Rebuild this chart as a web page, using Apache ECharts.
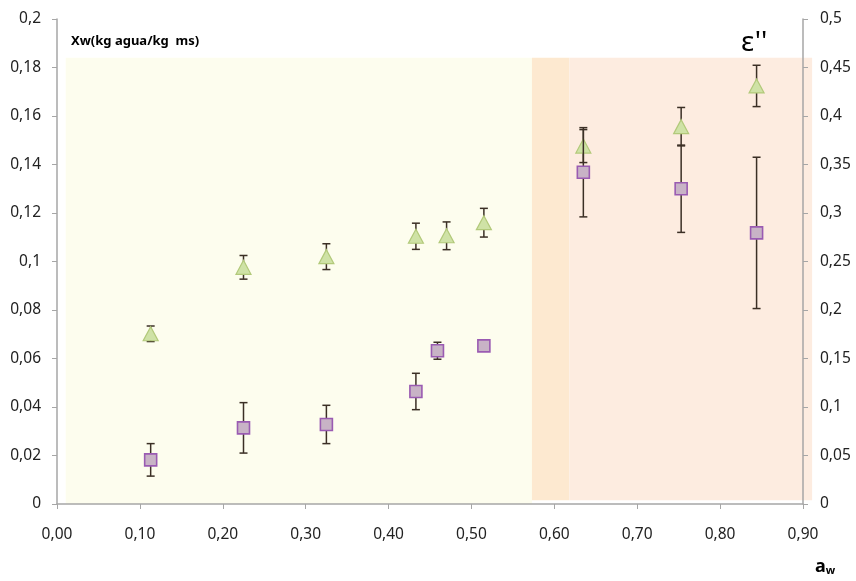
<!DOCTYPE html>
<html><head><meta charset="utf-8">
<style>html,body{margin:0;padding:0;background:#fff}#c{width:856px;height:581px}</style>
<script src="https://cdn.jsdelivr.net/npm/echarts@6/dist/echarts.min.js"></script>
</head><body><div id="c"></div>
<script>
// Data (aw on x; Xw on left axis; ε'' on right axis)
const awSquares = [0.113, 0.225, 0.325, 0.433, 0.459, 0.515, 0.635, 0.753, 0.844];
const xwValues  = [0.0182, 0.0314, 0.0328, 0.0464, 0.0632, 0.0652, 0.1368, 0.1300, 0.1118];
const xwErrors  = [0.0067, 0.0104, 0.0079, 0.0075, 0.0035, 0.0015, 0.0184, 0.0180, 0.0312];
const awTriangles = [0.113, 0.225, 0.325, 0.433, 0.470, 0.515, 0.635, 0.753, 0.844];
const epsValues = [0.1755, 0.2440, 0.2550, 0.2760, 0.2765, 0.2900, 0.3690, 0.3890, 0.4310];
const epsErrors = [0.0080, 0.0122, 0.0133, 0.0135, 0.0143, 0.0148, 0.0170, 0.0198, 0.0213];
const xTicks = {min: 0, max: 0.9, interval: 0.1};
const yLeftTicks = {min: 0, max: 0.2, interval: 0.02};
const yRightTicks = {min: 0, max: 0.5, interval: 0.05};
const zoneStart = [0.0105, 0.573, 0.618];
const zoneEnd   = [0.573, 0.618, 0.911];
const zoneBottom = [0, 0.0015, 0.0015];
const zoneTop   = [0.184, 0.184, 0.184];

const comma = (s) => s.replace('.', ',');
const trimFmt = (v) => { if (Math.abs(v) < 1e-9) return '0'; let s = (+v.toFixed(4)).toString(); return comma(s); };

const chart = echarts.init(document.getElementById('c'), null, {renderer: 'canvas'});
const font = 'Noto Sans';
const zoneColors = ['#fdfdee', '#fde9d0', '#fdece0'];

function errItem(params, api) {
  const x = api.value(0), y = api.value(1), e = api.value(2);
  const top = api.coord([x, y + e]);
  const bot = api.coord([x, y - e]);
  const hw = 4;
  const st = {stroke: '#3b2f25', lineWidth: 1.5};
  return {type: 'group', children: [
    {type: 'line', shape: {x1: top[0], y1: top[1], x2: bot[0], y2: bot[1]}, style: st},
    {type: 'line', shape: {x1: top[0]-hw, y1: top[1], x2: top[0]+hw, y2: top[1]}, style: st},
    {type: 'line', shape: {x1: bot[0]-hw, y1: bot[1], x2: bot[0]+hw, y2: bot[1]}, style: st}
  ]};
}

function zoneItem(params, api) {
  const p0 = api.coord([api.value(0), api.value(3)]);
  const p1 = api.coord([api.value(1), api.value(2)]);
  return {type: 'rect', shape: {x: p0[0], y: p0[1], width: p1[0] - p0[0], height: p1[1] - p0[1]},
          style: {fill: zoneColors[params.dataIndex]}};
}

const axisLabelBase = {fontFamily: font, fontSize: 15.5, color: '#222'};

chart.setOption({
  animation: false,
  backgroundColor: '#ffffff',
  grid: {left: 57, right: 53, top: 19, bottom: 77, containLabel: false},
  xAxis: {
    type: 'value', min: xTicks.min, max: xTicks.max, interval: xTicks.interval,
    axisLine: {show: true, lineStyle: {color: '#a6a6a6', width: 1.5}},
    axisTick: {show: true, length: 5, lineStyle: {color: '#a6a6a6'}},
    splitLine: {show: false},
    axisLabel: Object.assign({formatter: (v) => comma(v.toFixed(2)), margin: 23}, axisLabelBase)
  },
  yAxis: [
    {type: 'value', min: yLeftTicks.min, max: yLeftTicks.max, interval: yLeftTicks.interval, position: 'left',
     axisLine: {show: true, lineStyle: {color: '#a6a6a6', width: 1.5}},
     axisTick: {show: true, length: 5, lineStyle: {color: '#a6a6a6'}},
     splitLine: {show: false},
     axisLabel: Object.assign({formatter: trimFmt, margin: 16}, axisLabelBase)},
    {type: 'value', min: yRightTicks.min, max: yRightTicks.max, interval: yRightTicks.interval, position: 'right',
     axisLine: {show: true, lineStyle: {color: '#a6a6a6', width: 1.5}},
     axisTick: {show: true, length: 5, lineStyle: {color: '#a6a6a6'}},
     splitLine: {show: false},
     axisLabel: Object.assign({formatter: trimFmt, margin: 17}, axisLabelBase)}
  ],
  graphic: [
    {type: 'text', left: 71, top: 35, style: {text: 'Xw(kg agua/kg  ms)', font: 'bold 13px "Noto Sans"', fill: '#000'}},
    {type: 'text', left: 741, top: 29, style: {text: "ε''", font: '28px "Noto Sans"', fill: '#000'}},
    {type: 'text', left: 815, top: 558, style: {
      text: '{a|a}{w|w}', rich: {a: {fontFamily: font, fontWeight: 'bold', fontSize: 18, fill: '#000', verticalAlign: 'bottom'},
      w: {fontFamily: font, fontWeight: 'bold', fontSize: 11, fill: '#000', verticalAlign: 'bottom'}}}}
  ],
  series: [
    {type: 'custom', yAxisIndex: 0, z: 0, silent: true, clip: false, renderItem: zoneItem,
     data: zoneStart.map((s, i) => [s, zoneEnd[i], zoneBottom[i], zoneTop[i]]), encode: {x: [0, 1], y: [2, 3]}},
    {type: 'custom', yAxisIndex: 1, z: 2, renderItem: errItem,
     data: awTriangles.map((x, i) => [x, epsValues[i], epsErrors[i]]), encode: {x: 0, y: 1}},
    {type: 'scatter', yAxisIndex: 1, z: 3, symbol: 'triangle', symbolSize: [15, 14],
     itemStyle: {color: '#cfe2a6', borderColor: '#b2c97a', borderWidth: 1.2, opacity: 1},
     data: awTriangles.map((x, i) => [x, epsValues[i]])},
    {type: 'custom', yAxisIndex: 0, z: 4, renderItem: errItem,
     data: awSquares.map((x, i) => [x, xwValues[i], xwErrors[i]]), encode: {x: 0, y: 1}},
    {type: 'scatter', yAxisIndex: 0, z: 5, symbol: 'rect', symbolSize: 12,
     itemStyle: {color: '#c8b3c6', borderColor: '#9a5bb2', borderWidth: 1.6, opacity: 1},
     data: awSquares.map((x, i) => [x, xwValues[i]])}
  ]
});
</script></body></html>
